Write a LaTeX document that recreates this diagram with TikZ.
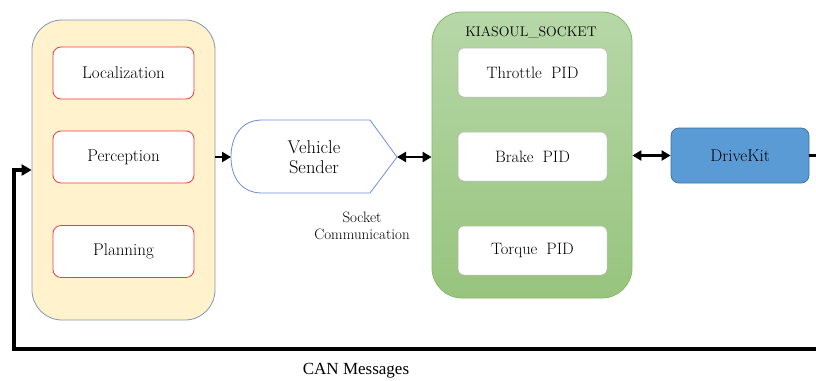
\documentclass[tikz,border=0pt]{standalone}
\usepackage{fontspec}
\newfontfamily\capfont{Liberation Serif}
\usetikzlibrary{arrows.meta}
\definecolor{cream}{HTML}{FFF2CC}
\definecolor{creamedge}{HTML}{7F98B8}
\definecolor{rededge}{HTML}{F03C3C}
\definecolor{greentop}{HTML}{B7D7A8}
\definecolor{greenbot}{HTML}{97C47E}
\definecolor{greenedge}{HTML}{86BA6A}
\definecolor{pidedge}{HTML}{B0B0B0}
\definecolor{dkfill}{HTML}{5B9BD5}
\definecolor{dkedge}{HTML}{41719C}
\definecolor{senderedge}{HTML}{6C8EDF}
\newcommand{\gap}{\hspace{0.55em}}
\tikzset{
  lbl/.style={font=\fontsize{17}{20}\selectfont, text=black},
  outerbox/.style={draw=creamedge, fill=cream, rounded corners=30pt, line width=0.8pt},
  modbox/.style={draw=rededge, fill=white, rounded corners=8pt, line width=0.8pt,
    minimum width=141pt, minimum height=52pt, lbl},
  ctrlbox/.style={draw=greenedge, top color=greentop, bottom color=greenbot,
    rounded corners=30pt, line width=0.8pt},
  pidbox/.style={draw=pidedge, fill=white, rounded corners=6pt, line width=0.5pt,
    minimum width=149pt, minimum height=49pt, lbl, font=\fontsize{16.5}{19}\selectfont},
  kitbox/.style={draw=dkedge, fill=dkfill, rounded corners=8pt, line width=0.8pt,
    minimum width=138pt, minimum height=55pt, lbl},
  link/.style={line width=2.6pt, -{Triangle[length=9pt,width=10pt]}},
  duplex/.style={line width=2.6pt, {Triangle[length=9pt,width=10pt]}-{Triangle[length=9pt,width=10pt]}},
  loop/.style={line width=3.6pt, -{Triangle[length=10pt,width=11pt]}},
}
\begin{document}
\begin{tikzpicture}[x=1pt,y=-1pt]
\useasboundingbox (0,0) rectangle (816,380);
\fill[white] (0,0) rectangle (816,380);

% planning stack
\node[outerbox, minimum width=183pt, minimum height=300pt] (lbox) at (123.5,170) {};
\node[modbox] (loc) at (123.5,73) {Localization};
\node[modbox] (perc) at (123.5,157) {Perception};
\node[modbox] (plan) at (123.5,251.5) {Planning};

% vehicle sender
\draw[senderedge, line width=0.8pt, fill=white]
  (262,120) -- (370,120) -- (397,157) -- (370,193) -- (262,193)
  .. controls (241,193) and (231,177) .. (231,157)
  .. controls (231,137) and (241,120) .. (262,120) -- cycle;
\coordinate (vsL) at (231,157);
\coordinate (vsR) at (397,157);
\node[lbl, align=center, font=\fontsize{18.5}{20.5}\selectfont] (vs) at (314,157) {Vehicle\\Sender};
\node[font=\fontsize{15}{17.5}\selectfont, align=center] (sock) at (362,226) {Socket\\Communication};

% control stack
\node[ctrlbox, minimum width=200pt, minimum height=286pt] (gbox) at (532,155) {};
\node[font=\fontsize{14}{16}\selectfont] (kia) at (531,32) {KIASOUL\_SOCKET};
\node[pidbox] (thr) at (532.5,72.5) {Throttle\gap PID};
\node[pidbox] (brk) at (532.5,156.5) {Brake\gap PID};
\node[pidbox] (trq) at (532.5,250.5) {Torque\gap PID};

% drive kit
\node[kitbox] (dk) at (740,155.5) {DriveKit};

% connectors
\draw[link] (perc.east -| lbox.east) -- (vsL);
\draw[duplex] (vsR) -- (vsR -| gbox.west);
\draw[duplex] (gbox.east |- dk.west) -- (dk.west);

\coordinate (c1) at (819,349);
\coordinate (c2) at (14,349);
\draw[loop] (dk.east) -| (c1) -- (c2) |- (lbox.west);
\node[font=\capfont\fontsize{17}{20}\selectfont] (can) at (356,371) {CAN~Messages};
\end{tikzpicture}
\end{document}
